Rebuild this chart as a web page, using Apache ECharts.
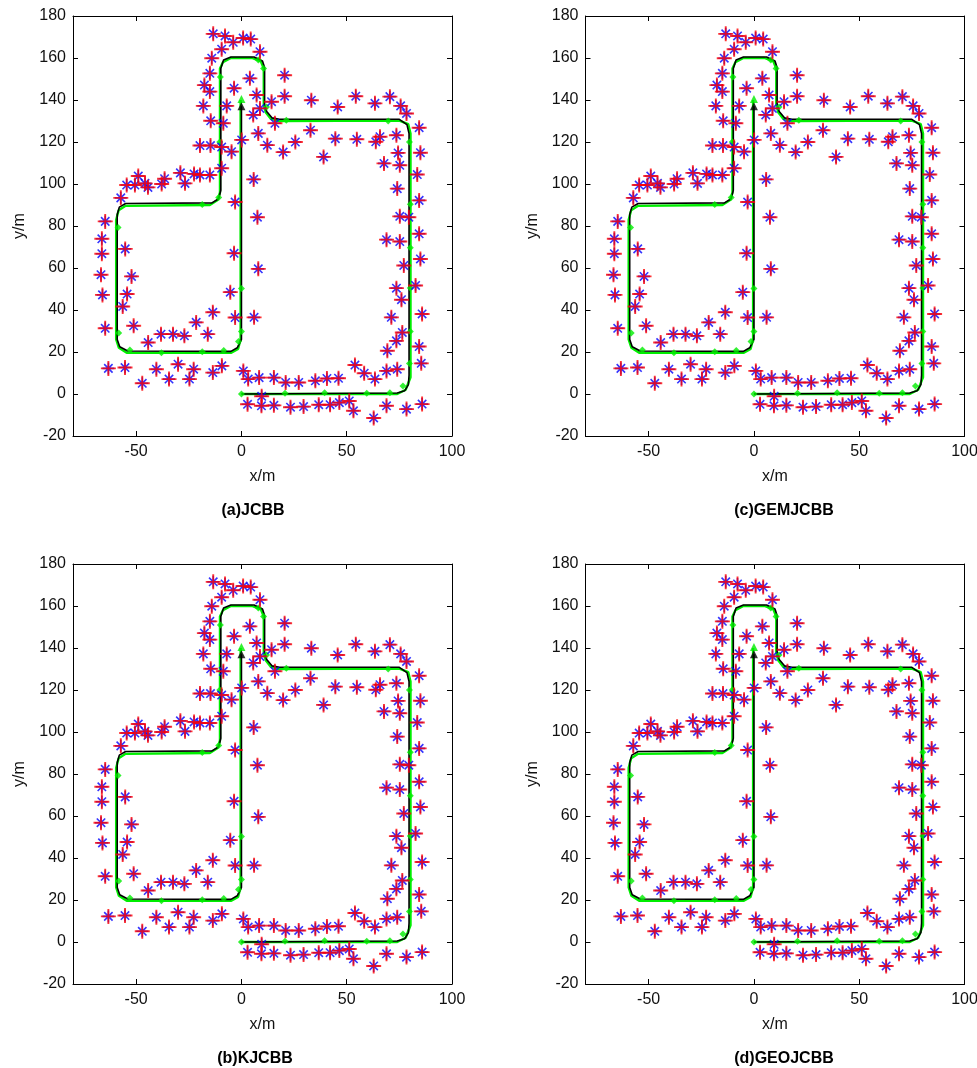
<!DOCTYPE html>
<html>
<head>
<meta charset="utf-8">
<script src="https://cdn.jsdelivr.net/npm/echarts@6/dist/echarts.min.js"></script>
<style>
html,body{margin:0;padding:0;background:#fff;}
#chart{width:977px;height:1068px;}
</style>
</head>
<body>
<div id="chart"></div>
<script>
// ---------------- data ----------------
const panelTitles = ['(a)JCBB', '(c)GEMJCBB', '(b)KJCBB', '(d)GEOJCBB'];
const xTicks = [-50, 0, 50, 100];
const yTicks = [-20, 0, 20, 40, 60, 80, 100, 120, 140, 160, 180];

// estimated vehicle path (black)
const estPath = [
  [0,0],[74,0.5],[77.5,1.5],[79.3,4.5],[79.6,9],[79.6,124],[78.6,128.3],[75,130.8],[18,130.8],[14.5,131.5],[12,134.5],
  [11,138],[11,155.5],[10,158.6],[6,160.5],[-5,160.5],[-8.5,159],[-9.8,155],[-9.8,97],[-10.8,93],[-14,91],[-55,90.7],
  [-58,89],[-59,85.5],[-59,26],[-57.8,22.5],[-54,20.5],[-5,20.3],[-2,22],[0,26],[0,137]
];
// true vehicle path (green)
const truePath = [
  [0,0],[74,0],[78,2],[80.3,8],[80.3,124],[79.2,128.5],[75,130.2],[18,130],[14,131],[11.6,134],
  [10.6,138],[10.6,155],[9.2,158.4],[5,160],[-5,160],[-8.8,158],[-10.2,155],[-10.2,96],[-11.3,92.4],[-15,90],[-55,89.6],
  [-58.3,87.5],[-59.5,83],[-59.5,26],[-58.2,22],[-54.5,19.6],[-5,19.6],[-1.6,21.5],[-0.4,26],[-0.4,140]
];
const truePathDots = [
  [0,0],[20.7,0.3],[39.5,0.6],[59.5,0.3],[70.5,0.6],[76.7,3.8],[79.8,14.5],[80.2,29.8],[80.2,50.5],[80.2,69.7],
  [80.2,90.4],[79.8,120],[69.7,130],[21.3,130.3],[11.9,136.7],[10.5,155],[8,159],[-10,151],[-10.3,120],[-10.8,93.6],
  [-18.6,90.2],[-58.6,79.3],[-58.3,29],[-53,21],[-38,19.7],[-18.6,20.1],[-8.4,20.7],[-1.4,25],[0,29.8],[0,50.2]
];
const startTrue = [[0,140.5]];
const endEst = [[0,137]];

// landmark positions (blue * true, red + estimated; coincident at this scale)
const landmarks = [
  [-13.4,171.5],[-7.8,170.5],[-3.9,167.5],[0.8,169.5],[4.4,169],[8.8,163],
  [-9.4,164.2],[-14.1,159.9],[-15,152.7],[-17.6,147.1],[-15,144],[-18.1,137.2],
  [-14.6,130.1],[-8.6,128.9],[-19.7,118.3],[-14.7,118.3],[-9.4,117.6],[-4.7,115.4],
  [0.1,121],[-3.5,145.6],[-7,137.2],[4,150.3],[7.2,142.4],[5.6,132.9],[8.8,136],
  [8,124.1],[12.3,118.5],[15.9,128.9],[20.5,141.8],[14.3,139.2],[20.5,151.8],
  [19.8,115.2],[25.6,120],[32.8,125.6],[33.2,139.9],[39,112.9],[44.6,121.6],[45.7,136.7],
  [54.3,141.8],[54.8,121.3],[63.8,120.1],[65.8,122.5],[63.4,138.4],[70.5,141.6],[75.6,137.2],[78.4,133.6],
  [84.4,126.8],[73.6,123.2],[74.4,114.8],[85,114.9],[67.7,109.8],[75.2,108.9],[83.5,104.5],[74,97.8],
  [84.4,92.2],[75.2,84.6],[79.5,84.2],[84.4,76.3],[68.9,73.5],[75.2,72.6],[85,64.3],[77.1,61.2],
  [73.6,50.4],[82.7,51.7],[76,44.9],[71.2,36.5],[85.8,38.1],[76.4,29.3],[73.6,25.3],[69.3,20.6],
  [84.4,22.6],[85.4,14.6],[68.9,11],[74,11.8],
  [53.9,13.8],[58.3,9.9],[63.4,7.1],[46.1,7.5],[40.6,7.4],[35.1,6.3],[27.2,5.5],[21,5.5],[15.4,7.8],[8.4,7.8],[3.2,7.1],[0.9,11],
  [9.6,-1.1],[2.9,-4.9],[9.5,-5.6],[15.4,-5.4],[23.3,-6.3],[29.5,-6],[36.7,-5.1],[42.1,-5.1],[46.5,-4.1],[51.2,-3.3],
  [53.2,-8],[62.8,-11.4],[68.9,-5.6],[78.4,-7.2],[85.8,-4.8],
  [-3,91.4],[-3.5,67],[-5.3,48.5],[-3,36.4],[5.8,102.2],[7.6,84.2],[8,59.6],[6,36.5],
  [-9.4,107.5],[-15,104.3],[-19.7,104.3],[-22.5,104.8],[-26.8,100.3],[-29,105.3],[-36.5,102.5],[-37.9,100],
  [-44.4,98.4],[-45.8,100.3],[-49,103.8],[-50.6,99.5],[-54.5,99.5],[-57.3,93.4],
  [-64.7,82.2],[-66.3,73.9],[-66.3,66.8],[-66.7,56.8],[-66,47.2],[-55.2,69.1],[-52.2,56],[-54.3,47.6],[-56.4,41.7],
  [-64.7,31.3],[-51.2,32.5],[-44.3,24.5],[-38.2,28.5],[-32.5,28.5],[-27.1,27.7],[-21.5,34.1],[-16,28.5],[-13.6,38.9],
  [-63.2,12.2],[-55.3,12.6],[-47.1,5.1],[-40.4,11.8],[-34.4,7.1],[-30.1,14.2],[-24.7,7.1],[-22.7,11.8],[-13.6,10.2],[-9.3,13.4]
];

// ---------------- layout ----------------
const FONT = '"Liberation Sans", Arial, Helvetica, sans-serif';
const gridPos = [
  {left: 73, top: 16}, {left: 585.5, top: 16},
  {left: 73, top: 564}, {left: 585.5, top: 564}
];
const titlePos = [[253, 511], [784, 511], [255, 1059], [784, 1059]];
const PW = 379, PH = 420;

const STAR = 'path://M0,-10L0,10M-10,0L10,0M-7,-7L7,7M-7,7L7,-7';
const PLUS = 'path://M0,-10L0,10M-10,0L10,0';

const grids = [], xAxes = [], yAxes = [], series = [], graphics = [];
gridPos.forEach((g, i) => {
  grids.push({left: g.left, top: g.top, width: PW, height: PH, outerBoundsMode: 'none', containLabel: false});
  const common = {gridIndex: i, type: 'value', splitLine: {show: false}};
  xAxes.push(Object.assign({}, common, {
    min: -80, max: 100, position: 'bottom',
    axisLine: {show: true, onZero: false, lineStyle: {color: '#000', width: 1}},
    axisTick: {show: true, inside: true, length: 5, customValues: xTicks, lineStyle: {color: '#000'}},
    axisLabel: {show: true, customValues: xTicks, fontSize: 16, color: '#111', fontFamily: FONT, margin: 8},
    name: 'x/m', nameLocation: 'middle', nameGap: 33,
    nameTextStyle: {fontSize: 16, color: '#111', fontFamily: FONT}
  }));
  xAxes.push(Object.assign({}, common, {
    min: -80, max: 100, position: 'top',
    axisLine: {show: true, onZero: false, lineStyle: {color: '#000', width: 1}},
    axisTick: {show: true, inside: true, length: 5, customValues: xTicks, lineStyle: {color: '#000'}},
    axisLabel: {show: false}
  }));
  yAxes.push(Object.assign({}, common, {
    min: -20, max: 180, interval: 20, position: 'left',
    axisLine: {show: true, onZero: false, lineStyle: {color: '#000', width: 1}},
    axisTick: {show: true, inside: true, length: 5, lineStyle: {color: '#000'}},
    axisLabel: {show: true, fontSize: 16, color: '#111', fontFamily: FONT, margin: 7},
    name: 'y/m', nameLocation: 'middle', nameGap: 45,
    nameTextStyle: {fontSize: 16, color: '#111', fontFamily: FONT}
  }));
  yAxes.push(Object.assign({}, common, {
    min: -20, max: 180, interval: 20, position: 'right',
    axisLine: {show: true, onZero: false, lineStyle: {color: '#000', width: 1}},
    axisTick: {show: true, inside: true, length: 5, lineStyle: {color: '#000'}},
    axisLabel: {show: false}
  }));
  const xi = i * 2, yi = i * 2;
  series.push({type: 'line', xAxisIndex: xi, yAxisIndex: yi, data: truePath, symbol: 'none',
    lineStyle: {color: '#00ee00', width: 2.4}, silent: true, z: 2});
  series.push({type: 'line', xAxisIndex: xi, yAxisIndex: yi, data: estPath, symbol: 'none',
    lineStyle: {color: '#000', width: 1.6}, silent: true, z: 3});
  series.push({type: 'scatter', xAxisIndex: xi, yAxisIndex: yi, data: truePathDots, symbol: 'diamond', symbolSize: 7,
    itemStyle: {color: '#00ee00'}, silent: true, z: 4});
  series.push({type: 'scatter', xAxisIndex: xi, yAxisIndex: yi, data: landmarks, symbol: STAR, symbolSize: 12,
    itemStyle: {color: 'rgba(0,0,0,0)', borderColor: '#0000ff', borderWidth: 1.6}, silent: true, z: 5});
  series.push({type: 'scatter', xAxisIndex: xi, yAxisIndex: yi, data: landmarks, symbol: PLUS, symbolSize: 15,
    itemStyle: {color: 'rgba(0,0,0,0)', borderColor: '#ff0000', borderWidth: 1.9}, silent: true, z: 6});
  series.push({type: 'scatter', xAxisIndex: xi, yAxisIndex: yi, data: startTrue, symbol: 'triangle', symbolSize: 8,
    itemStyle: {color: '#00ee00'}, silent: true, z: 7});
  series.push({type: 'scatter', xAxisIndex: xi, yAxisIndex: yi, data: endEst, symbol: 'triangle', symbolSize: 8,
    itemStyle: {color: '#000'}, silent: true, z: 8});
  graphics.push({type: 'text', x: titlePos[i][0], y: titlePos[i][1],
    style: {text: panelTitles[i], font: 'bold 16px ' + FONT, fill: '#000', align: 'center', verticalAlign: 'middle'}});
});

const chart = echarts.init(document.getElementById('chart'), null, {renderer: 'canvas'});
chart.setOption({
  animation: false,
  backgroundColor: '#fff',
  grid: grids, xAxis: xAxes, yAxis: yAxes, series: series, graphic: graphics
});
</script>
</body>
</html>
